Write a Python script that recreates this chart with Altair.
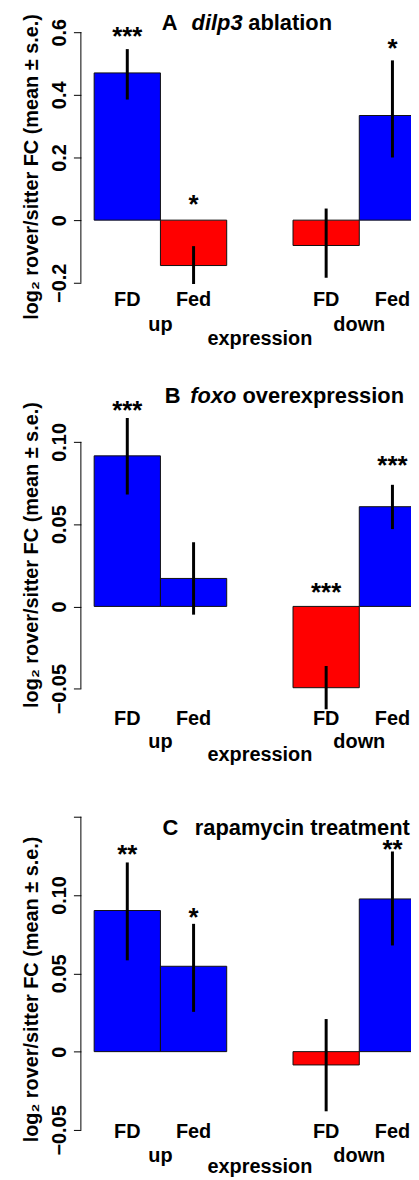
import altair as alt
import pandas as pd

# ---------------- data ----------------
conditions = ["FD", "Fed", "FD", "Fed"]
groups = ["up", "up", "down", "down"]
bar_left = [1, 2, 4, 5]          # barplot slot of each bar (bar units)

# A  dilp3 ablation
a_mean = [0.470, -0.145, -0.081, 0.334]
a_lo = [0.385, -0.204, -0.184, 0.200]
a_hi = [0.546, -0.083, 0.037, 0.510]
a_stars = ["***", "*", "", "*"]
a_star_y = [0.546, 0.011, 0.0, 0.507]
a_ticks = [-0.2, 0.0, 0.2, 0.4, 0.6]

# B  foxo overexpression
b_mean = [0.0915, 0.0170, -0.0494, 0.0606]
b_lo = [0.0680, -0.0050, -0.0625, 0.0470]
b_hi = [0.1145, 0.0390, -0.0362, 0.0739]
b_stars = ["***", "", "***", "***"]
b_star_y = [0.1113, 0.0, 0.0009, 0.0781]
b_ticks = [-0.05, 0.0, 0.05, 0.10]

# C  rapamycin treatment
c_mean = [0.0901, 0.0545, -0.0085, 0.0975]
c_lo = [0.0583, 0.0254, -0.0381, 0.0678]
c_hi = [0.1208, 0.0816, 0.0208, 0.1278]
c_stars = ["**", "*", "", "**"]
c_star_y = [0.1178, 0.0776, 0.0, 0.1210]
c_ticks = [-0.05, 0.0, 0.05, 0.10, 0.15]

y_title = "log\u2082 rover/sitter FC (mean \u00b1 s.e.)"
x_title = "expression"

FONT = "Liberation Sans"
X_DOMAIN = [0.8, 6.2]
X_WIDTH = 360
SPACING = 80


def panel(mean, lo, hi, stars, star_y, ticks, fmt, hide_top, title_parts, lay):
    top, ppu, height = lay["top"], lay["ppu"], lay["height"]
    ymax = ticks[-1]
    ymin = ymax - height / ppu
    xs = alt.Scale(domain=X_DOMAIN, nice=False, zero=False)
    ys = alt.Scale(domain=[ymin, ymax], nice=False, zero=False)

    df = pd.DataFrame({
        "cond": conditions,
        "group": groups,
        "x0": bar_left,
        "x1": [b + 1 for b in bar_left],
        "xc": [b + 0.5 for b in bar_left],
        "base": [0.0] * 4,
        "mean": mean,
        "lo": lo,
        "hi": hi,
        "stars": stars,
        "star_y": star_y,
    })
    gdf = df.groupby("group", sort=False)["xc"].mean().reset_index()
    edf = pd.DataFrame({"t": [x_title], "xe": [sum(X_DOMAIN) / 2]})
    adf = pd.DataFrame({"xa": [X_DOMAIN[0]], "lo": [ticks[0]], "hi": [ticks[-1]]})

    if hide_top:
        lexpr = ("datum.value > %g ? '' : (datum.value == 0 ? '0' : format(datum.value, '%s'))"
                 % (ticks[-2] + 1e-9, fmt))
    else:
        lexpr = "datum.value == 0 ? '0' : format(datum.value, '%s')" % fmt

    axis = alt.Axis(
        values=ticks, labelExpr=lexpr, domain=False, grid=False,
        tickSize=7.5, tickColor="black", tickWidth=1,
        labelAngle=270, labelAlign="center", labelBaseline="alphabetic",
        labelPadding=8, labelFont=FONT, labelFontSize=20, labelFontWeight="bold",
        labelColor="black", labelOverlap=False, labelFlush=False, labelBound=False,
        title=y_title, titleX=-44, titleY=lay["ytitle"], titleAngle=270,
        titleAlign="center", titleBaseline="alphabetic", titleFont=FONT,
        titleFontSize=20, titleFontWeight="bold", titleColor="black",
    )

    def Y(field):
        return alt.Y(field, type="quantitative", scale=ys, axis=axis)

    def X(field):
        return alt.X(field, type="quantitative", scale=xs, axis=None)

    bars = alt.Chart(df).mark_bar(stroke="#111111", strokeWidth=1).encode(
        x=X("x0"),
        x2="x1:Q",
        y=Y("base"),
        y2="mean:Q",
        color=alt.condition("datum.mean > 0", alt.value("#0000FF"), alt.value("#FF0000")),
    )
    axis_line = alt.Chart(adf).mark_rule(color="black", strokeWidth=1).encode(
        x=X("xa"), y=Y("lo"), y2="hi:Q",
    )
    errs = alt.Chart(df).mark_rule(color="black", strokeWidth=3).encode(
        x=X("xc"), y=Y("lo"), y2="hi:Q",
    )
    star_txt = alt.Chart(df).transform_filter("datum.stars != ''").mark_text(
        font=FONT, fontSize=26, fontWeight="bold", align="center",
        baseline="alphabetic", color="black", dy=-4,
    ).encode(x=X("xc"), y=Y("star_y"), text="stars:N")
    txt = dict(font=FONT, fontSize=20, fontWeight="bold", align="center",
               baseline="alphabetic", color="black")
    cond_txt = alt.Chart(df).mark_text(**txt).encode(
        x=X("xc"), y=alt.value(lay["ycond"]), text="cond:N")
    grp_txt = alt.Chart(gdf).mark_text(**txt).encode(
        x=X("xc"), y=alt.value(lay["ygrp"]), text="group:N")
    exp_txt = alt.Chart(edf).mark_text(**txt).encode(
        x=X("xe"), y=alt.value(lay["yexp"]), text="t:N")

    layers = [bars, axis_line, errs, star_txt, cond_txt, grp_txt, exp_txt]
    for text, xpx, italic in title_parts:
        tdf = pd.DataFrame({"t": [text]})
        layers.append(alt.Chart(tdf).mark_text(
            font=FONT, fontSize=22, fontWeight="bold",
            fontStyle="italic" if italic else "normal",
            align="left", baseline="alphabetic", color="black",
        ).encode(x=alt.value(xpx), y=alt.value(lay["ytitlemain"]), text="t:N"))

    return alt.layer(*layers).properties(width=X_WIDTH, height=height)


lay_a = dict(top=30.0, ppu=315.0, ytitle=135, ycond=275, ygrp=301, yexp=315, ytitlemain=-2.7)
lay_b = dict(top=441.7, ppu=1655.0, ytitle=113.3, ycond=285, ygrp=308.3, yexp=321.3, ytitlemain=-39)
lay_c = dict(top=818.3, ppu=1575.0, ytitle=173.2, ycond=323.4, ygrp=347, yexp=358.0, ytitlemain=18.4)
lay_a["height"] = lay_b["top"] - lay_a["top"] - SPACING
lay_b["height"] = lay_c["top"] - lay_b["top"] - SPACING
lay_c["height"] = 358.0

pa = panel(a_mean, a_lo, a_hi, a_stars, a_star_y, a_ticks, ".1f", False,
           [("A", 81.3, False), ("dilp3", 111.3, True), ("ablation", 168.3, False)], lay_a)
pb = panel(b_mean, b_lo, b_hi, b_stars, b_star_y, b_ticks, ".2f", False,
           [("B", 84.3, False), ("foxo", 110.0, True), ("overexpression", 162.5, False)], lay_b)
pc = panel(c_mean, c_lo, c_hi, c_stars, c_star_y, c_ticks, ".2f", True,
           [("C", 82.0, False), ("rapamycin treatment", 114.5, False)], lay_c)

chart = alt.vconcat(pa, pb, pc, spacing=SPACING, bounds="flush").properties(
    padding={"left": 12.3, "top": 0, "right": -28, "bottom": -3},
    background="white",
).configure_view(stroke=None)

chart.save("out.html", embed_options={"renderer": "svg", "actions": False})
